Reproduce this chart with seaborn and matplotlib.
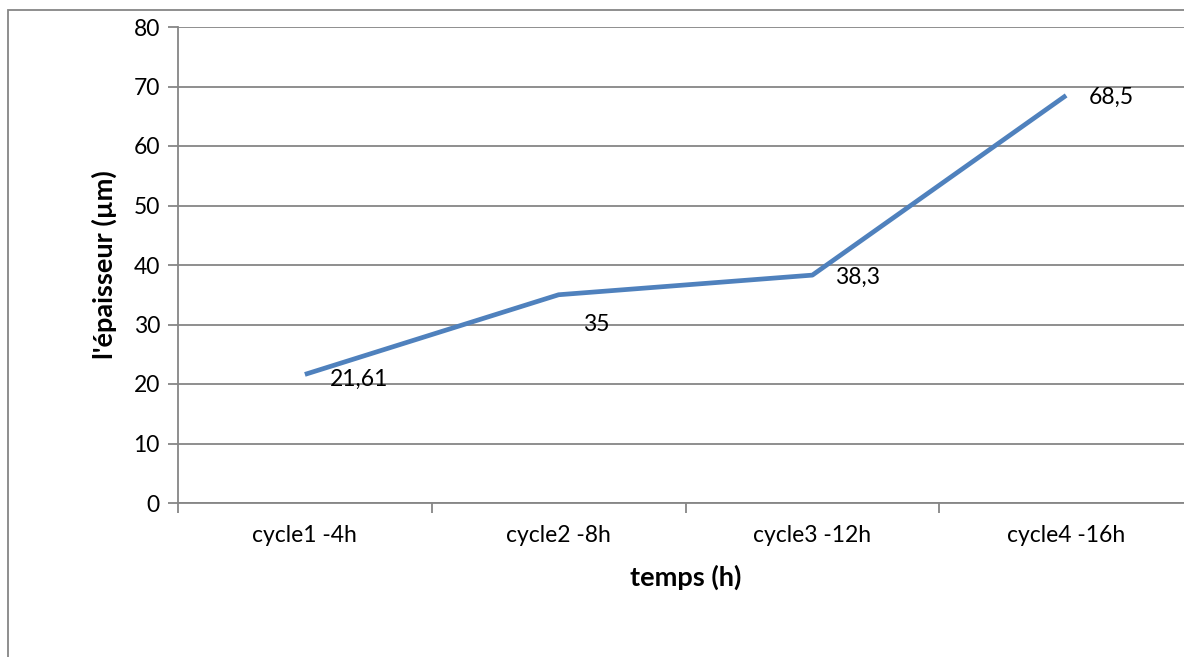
import matplotlib
matplotlib.use("Agg")
import matplotlib.pyplot as plt
import seaborn as sns
import pandas as pd
from matplotlib.patches import Rectangle

categories = ["cycle1 -4h", "cycle2 -8h", "cycle3 -12h", "cycle4 -16h"]
thickness = [21.61, 35, 38.3, 68.5]
value_labels = ["21,61", "35", "38,3", "68,5"]
label_offsets = [(25, -5), (24, -30), (23, -2), (23, -2)]

sns.set_theme(style="white")
plt.rcParams["font.family"] = ["Lato", "DejaVu Sans"]

W, H = 1184, 657
fig = plt.figure(figsize=(W / 100, H / 100), dpi=100)
fig.patch.set_facecolor("white")

grey = "#868686"
# chart frame
fig.add_artist(Rectangle((8 / W, -0.1), 1.2, 1.1 - 10 / H, transform=fig.transFigure,
                         fill=False, edgecolor=grey, linewidth=1.3))

left, right, bottom, top = 178, 1193, 503, 27
ax = fig.add_axes([left / W, 1 - bottom / H, (right - left) / W, (bottom - top) / H])
ax.set_facecolor("none")

df = pd.DataFrame({"cycle": categories, "epaisseur": thickness})
sns.lineplot(data=df, x="cycle", y="epaisseur", sort=False, ax=ax,
             color="#4F81BD", linewidth=3.4, solid_capstyle="butt")

ax.set_xlim(-0.5, len(categories) - 0.5)
ax.set_ylim(0, 80)
ax.set_yticks(range(0, 81, 10))
ax.set_xticks(range(len(categories)))
ax.set_xticklabels(categories)
ax.set_xticks([i - 0.5 for i in range(len(categories) + 1)], minor=True)

ax.grid(axis="y", color=grey, linewidth=1.3)
ax.set_axisbelow(True)
for s in ["top", "right"]:
    ax.spines[s].set_visible(False)
for s in ["left", "bottom"]:
    ax.spines[s].set_color(grey)
    ax.spines[s].set_linewidth(1.3)

ax.tick_params(axis="y", which="major", direction="out", length=7, width=1.3, color=grey,
               labelsize=16.5, pad=6, left=True)
ax.tick_params(axis="x", which="major", length=0, labelsize=16.5, pad=16)
ax.tick_params(axis="x", which="minor", direction="out", length=7, width=1.3, color=grey, bottom=True)
for t in ax.get_xticklabels() + ax.get_yticklabels():
    t.set_color("black")

ax.set_xlabel("temps (h)", fontsize=19.5, fontweight="bold", labelpad=13, color="black")
ax.set_ylabel("l'épaisseur (µm)", fontsize=19.5, fontweight="bold", labelpad=12, color="black")

for i, (v, lab, off) in enumerate(zip(thickness, value_labels, label_offsets)):
    ax.annotate(lab, (i, v), xytext=(off[0] * 0.72, off[1] * 0.72), textcoords="offset points",
                ha="left", va="center", fontsize=16.5, color="black")

fig.savefig("out.png", dpi=100)
